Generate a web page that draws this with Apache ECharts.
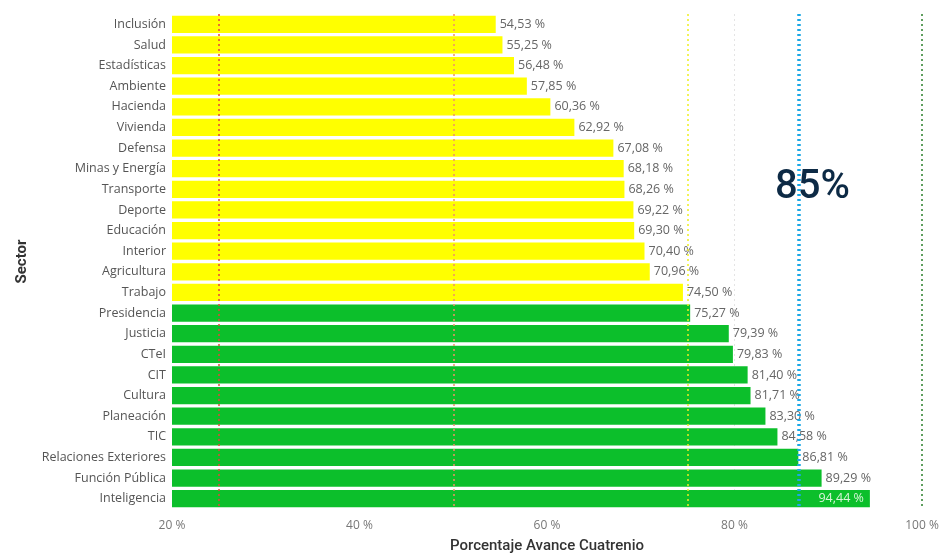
<!DOCTYPE html>
<html>
<head>
<meta charset="utf-8">
<script src="https://cdn.jsdelivr.net/npm/echarts@6/dist/echarts.min.js"></script>
<style>
 html,body{margin:0;padding:0;background:#fff;}
 #main{width:941px;height:557px;}
</style>
</head>
<body>
<div id="main"></div>
<script>
 // sectores y avance (%)
 var sectores = ['Inclusión','Salud','Estadísticas','Ambiente','Hacienda','Vivienda','Defensa','Minas y Energía','Transporte','Deporte','Educación','Interior','Agricultura','Trabajo','Presidencia','Justicia','CTeI','CIT','Cultura','Planeación','TIC','Relaciones Exteriores','Función Pública','Inteligencia'];
 var avance = [54.53,55.25,56.48,57.85,60.36,62.92,67.08,68.18,68.26,69.22,69.30,70.40,70.96,74.50,75.27,79.39,79.83,81.40,81.71,83.30,84.58,86.81,89.29,94.44];
 var xTicks = [20,40,60,80,100];
 // lineas de referencia
 var refValores = [25,50,75,86.8,100];
 var refColores = ['#e8413c','#f0906a','#eeee22','#1ba8e6','#5e9e5e'];
 var refAnchos = [1.5,1.5,1.5,3.5,2];
 var metaTexto = '85%';

 var fmt = function(v){ return v.toFixed(2).replace('.', ',') + ' %'; };

 var datos = [];
 for (var i = 0; i < avance.length; i++) {
   var d = {
     value: avance[i],
     itemStyle: { color: avance[i] >= 75 ? '#0cbf2b' : '#ffff00' }
   };
   if (avance[i] > 90) {
     d.label = { position: 'insideRight', color: '#d8f5d8', distance: 6 };
   }
   datos.push(d);
 }

 var lineas = [];
 for (var j = 0; j < refValores.length; j++) {
   lineas.push({
     xAxis: refValores[j],
     lineStyle: { color: refColores[j], width: refAnchos[j], type: [2, 3] }
   });
 }

 var myChart = echarts.init(document.getElementById('main'));
 var option = {
   animation: false,
   textStyle: { fontFamily: 'Open Sans' },
   grid: { left: 172, right: 19, top: 14, bottom: 48, outerBoundsMode: 'none', containLabel: false },
   xAxis: {
     type: 'value',
     min: 20, max: 100, interval: 20,
     name: 'Porcentaje Avance Cuatrenio',
     nameLocation: 'middle',
     nameGap: 30,
     nameTextStyle: { fontFamily: 'Roboto', fontSize: 15, fontWeight: 500, color: '#333' },
     axisLine: { show: false },
     axisTick: { show: false },
     splitLine: { show: true, lineStyle: { color: ['rgba(0,0,0,0)','rgba(0,0,0,0)','rgba(0,0,0,0)','#e4e4e4','rgba(0,0,0,0)'], type: [2, 3] } },
     axisLabel: {
       color: '#777', fontSize: 12, margin: 11,
       formatter: function(v){ return xTicks.indexOf(v) >= 0 ? v + ' %' : ''; }
     }
   },
   yAxis: {
     type: 'category',
     inverse: true,
     data: sectores,
     name: 'Sector',
     nameLocation: 'middle',
     nameGap: 142,
     nameRotate: 90,
     nameTextStyle: { fontFamily: 'Roboto', fontSize: 15, fontWeight: 'bold', color: '#333' },
     axisLine: { show: false },
     axisTick: { show: false },
     axisLabel: { color: '#555', fontSize: 12.5, margin: 6 }
   },
   series: [{
     type: 'bar',
     data: datos,
     barCategoryGap: '16%',
     label: {
       show: true, position: 'right', distance: 4,
       color: '#666', fontSize: 12.5,
       formatter: function(p){ return fmt(p.value); }
     },
     markLine: {
       silent: true,
       symbol: 'none',
       label: { show: false },
       data: lineas
     }
   }],
   graphic: [{
     type: 'text',
     left: 775, top: 168,
     style: { text: metaTexto, fontSize: 40, fontFamily: 'Roboto', fontWeight: 500, fill: '#0d2a45' }
   }]
 };
 myChart.setOption(option);
</script>
</body>
</html>
